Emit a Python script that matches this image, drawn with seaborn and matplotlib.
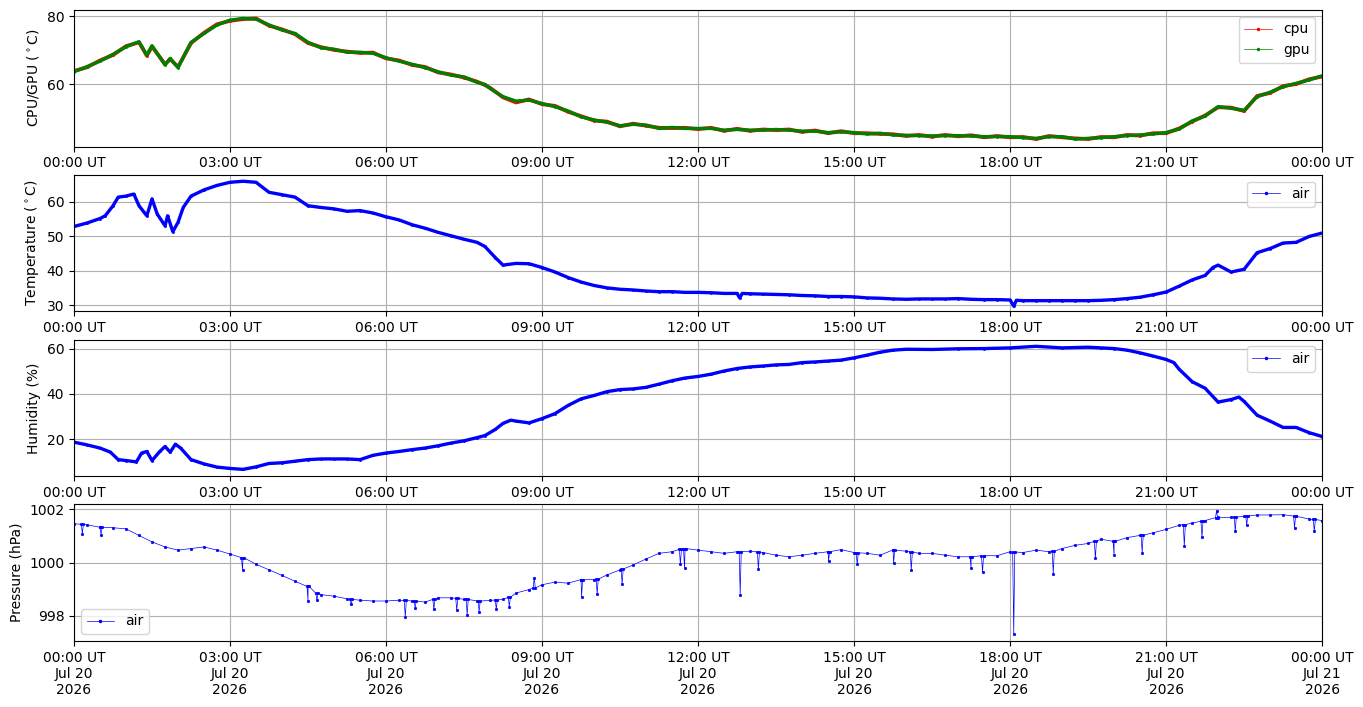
import pandas as pd
import numpy as np
import matplotlib
matplotlib.use("Agg")
import matplotlib.pyplot as plt
import matplotlib.dates as mdates
from matplotlib.lines import Line2D
import seaborn as sns

day = pd.Timestamp("2026-07-20 00:00")

# CPU / GPU temperature (hours after 00:00 UT, degC)
chip_hours = [0, 0.25, 0.5, 0.75, 1.0, 1.25, 1.4, 1.5, 1.75, 1.85, 2.0, 2.25, 2.5, 2.75,
              3.0, 3.25, 3.5, 3.75, 4.0, 4.25, 4.5, 4.75, 5.0, 5.25, 5.5, 5.75, 6.0, 6.25,
              6.5, 6.75, 7.0, 7.25, 7.5, 7.75, 7.9, 8.0, 8.25, 8.5, 8.75, 9.0, 9.25, 9.5,
              9.75, 10.0, 10.25, 10.5, 10.75, 11.0, 11.25, 11.5, 11.75, 12.0, 12.25, 12.5,
              12.75, 13.0, 13.25, 13.5, 13.75, 14.0, 14.25, 14.5, 14.75, 15.0, 15.25, 15.5,
              15.75, 16.0, 16.25, 16.5, 16.75, 17.0, 17.25, 17.5, 17.75, 18.0, 18.25, 18.5,
              18.75, 19.0, 19.25, 19.5, 19.75, 20.0, 20.25, 20.5, 20.75, 21.0, 21.25, 21.5,
              21.75, 22.0, 22.25, 22.5, 22.75, 23.0, 23.25, 23.5, 23.75, 24.0]
gpu = [63.7, 65.2, 66.8, 68.8, 71.0, 72.5, 68.6, 71.3, 65.7, 67.6, 64.9, 72.3, 74.9, 77.4,
       78.8, 79.3, 79.1, 77.4, 75.9, 74.9, 72.3, 70.7, 70.3, 69.4, 69.4, 69.1, 67.8, 66.8,
       65.9, 64.9, 63.7, 62.7, 62.2, 60.6, 60.0, 58.8, 56.4, 55.1, 55.4, 54.4, 53.5, 52.2,
       50.5, 49.6, 48.9, 47.9, 48.3, 48.1, 47.1, 47.4, 47.1, 47.1, 47.1, 46.6,
       46.8, 46.6, 46.6, 46.8, 46.6, 46.3, 46.3, 45.9, 46.1, 45.9, 45.5, 45.7,
       45.2, 45.1, 45.0, 44.9, 45.0, 45.0, 44.9, 44.7, 44.7, 44.7, 44.4, 44.2,
       44.7, 44.7, 44.0, 44.2, 44.4, 44.7, 45.0, 45.2, 45.5, 45.9, 46.9, 49.3,
       50.7, 53.5, 53.0, 52.4, 56.4, 57.7, 59.3, 60.3, 61.3, 62.5]
cpu = [63.9, 65.0, 67.0, 68.6, 71.2, 72.3, 68.4, 71.1, 65.9, 67.4, 65.1, 72.1, 75.1, 77.6,
       78.6, 79.1, 79.3, 77.2, 76.1, 74.7, 72.1, 70.9, 70.1, 69.6, 69.2, 69.3, 67.6, 67.0,
       65.7, 65.1, 63.5, 62.9, 62.0, 60.8, 59.8, 59.0, 56.2, 54.7, 55.6, 54.2, 53.7, 52.0,
       50.7, 49.4, 49.1, 47.7, 48.5, 47.9, 47.3, 47.2, 47.3, 46.9, 47.3, 46.4,
       47.0, 46.4, 46.8, 46.6, 46.8, 46.1, 46.5, 45.7, 46.3, 45.7, 45.7, 45.5,
       45.4, 44.9, 45.2, 44.7, 45.2, 44.8, 45.1, 44.5, 44.9, 44.5, 44.6, 44.0,
       44.9, 44.5, 44.2, 44.0, 44.6, 44.5, 45.2, 45.0, 45.7, 45.7, 47.1, 49.1,
       50.9, 53.3, 53.2, 52.2, 56.6, 57.5, 59.5, 60.1, 61.5, 62.3]

# Air temperature (degC)
temp_hours = [0, 0.25, 0.5, 0.6, 0.75, 0.85, 1.0, 1.15, 1.25, 1.4, 1.5, 1.6, 1.75, 1.8, 1.9,
              2.0, 2.1, 2.25, 2.5, 2.75, 3.0, 3.25, 3.5, 3.75, 4.0, 4.25, 4.5, 4.75, 5.0,
              5.25, 5.5, 5.75, 6.0, 6.25, 6.5, 6.75, 7.0, 7.25, 7.5, 7.75, 7.9, 8.1, 8.25,
              8.5, 8.75, 9.0, 9.25, 9.5, 9.75, 10.0, 10.25, 10.5, 10.75, 11.0, 11.25, 11.5,
              11.75, 12.0, 12.25, 12.5, 12.75, 12.8, 12.85, 13.0, 13.25, 13.5, 13.75, 14.0,
              14.25, 14.5, 14.75, 15.0, 15.25, 15.5, 15.75, 16.0, 16.25, 16.5, 16.75, 17.0,
              17.25, 17.5, 17.75, 18.0, 18.07, 18.12, 18.25, 18.5, 18.75, 19.0, 19.25, 19.5,
              19.75, 20.0, 20.25, 20.5, 20.75, 21.0, 21.25, 21.5, 21.75, 21.9, 22.0, 22.25,
              22.5, 22.75, 23.0, 23.25, 23.5, 23.75, 24.0]
temp = [52.9, 53.9, 55.2, 56.0, 58.9, 61.4, 61.7, 62.3, 58.9, 56.0, 60.9, 56.5, 53.1, 56.0, 51.4,
        54.1, 58.4, 61.7, 63.5, 64.8, 65.7, 66.0, 65.7, 62.8, 62.1, 61.4, 58.9, 58.4, 58.0,
        57.3, 57.5, 56.8, 55.7, 54.8, 53.4, 52.4, 51.2, 50.2, 49.2, 48.3, 47.1, 43.9, 41.7,
        42.2, 42.1, 41.0, 39.7, 38.1, 36.8, 35.8, 35.1, 34.7, 34.5, 34.2, 34.0, 34.0,
        33.8, 33.8, 33.7, 33.5, 33.5, 32.2, 33.5, 33.4, 33.3, 33.2, 33.1, 32.9,
        32.8, 32.6, 32.6, 32.5, 32.2, 32.1, 31.9, 31.8, 31.9, 31.9, 31.9, 32.0,
        31.8, 31.7, 31.7, 31.6, 29.8, 31.5, 31.4, 31.4, 31.4, 31.4, 31.4, 31.4,
        31.5, 31.7, 32.0, 32.4, 33.1, 33.9, 35.6, 37.4, 38.7, 41.0, 41.7, 39.7,
        40.5, 45.3, 46.5, 48.1, 48.3, 50.0, 51.0]

# Relative humidity (%)
hum_hours = [0, 0.25, 0.5, 0.7, 0.85, 1.0, 1.2, 1.3, 1.4, 1.5, 1.65, 1.75, 1.85, 1.95, 2.05,
             2.25, 2.5, 2.75, 3.0, 3.25, 3.5, 3.75, 4.0, 4.25, 4.5, 4.75, 5.0, 5.25, 5.5,
             5.75, 6.0, 6.25, 6.5, 6.75, 7.0, 7.25, 7.5, 7.75, 7.9, 8.1, 8.25, 8.4, 8.5,
             8.75, 9.0, 9.25, 9.5, 9.75, 10.0, 10.25, 10.5, 10.75, 11.0, 11.25, 11.5, 11.75,
             12.0, 12.25, 12.5, 12.75, 13.0, 13.25, 13.5, 13.75, 14.0, 14.25, 14.5, 14.75,
             15.0, 15.25, 15.5, 15.75, 16.0, 16.5, 17.0, 17.5, 18.0, 18.5, 19.0, 19.5,
             19.75, 20.0, 20.25, 20.5, 20.75, 21.0, 21.15, 21.25, 21.5, 21.75, 22.0, 22.25,
             22.4, 22.5, 22.75, 23.0, 23.25, 23.5, 23.75, 24.0]
hum = [18.7, 17.5, 16.1, 14.3, 11.0, 10.6, 10.0, 13.9, 14.6, 10.6, 14.6, 16.8, 14.3, 17.8, 16.1,
       11.0, 9.1, 7.7, 7.1, 6.7, 7.8, 9.3, 9.6, 10.3, 11.0, 11.3, 11.3, 11.3, 11.0,
       12.9, 13.9, 14.6, 15.4, 16.1, 17.1, 18.3, 19.3, 20.7, 21.6, 24.3, 27.0, 28.4, 28.0,
       27.2, 29.1, 31.3, 34.9, 37.8, 39.3, 41.0, 41.9, 42.2, 42.9, 44.3, 45.8, 47.0,
       47.7, 48.7, 50.1, 51.2, 51.9, 52.3, 52.8, 53.0, 53.8, 54.1, 54.5, 54.9,
       55.9, 57.1, 58.4, 59.3, 59.7, 59.6, 59.9, 60.0, 60.3, 61.0, 60.3, 60.6,
       60.3, 60.0, 59.3, 58.1, 56.7, 55.2, 53.8, 50.9, 45.4, 42.5, 36.4, 37.5,
       38.6, 36.7, 30.6, 28.0, 25.2, 25.2, 22.9, 21.2]

# Air pressure (hPa), regular readings every 15 minutes
pres_hours = list(np.arange(0, 24.01, 0.25))
pres = [1001.46, 1001.42, 1001.33, 1001.31, 1001.27, 1001.02, 1000.78, 1000.59, 1000.47,
        1000.53, 1000.59, 1000.47, 1000.32, 1000.19, 999.94, 999.73, 999.52, 999.30, 999.11,
        998.80, 998.74, 998.64, 998.59, 998.56, 998.56, 998.59, 998.56, 998.52, 998.68,
        998.68, 998.62, 998.56, 998.58, 998.62, 998.86, 998.99, 999.17, 999.27, 999.23,
        999.36, 999.36, 999.54, 999.73, 999.91, 1000.14, 1000.35, 1000.41, 1000.53, 1000.47,
        1000.41, 1000.35, 1000.41, 1000.43, 1000.38, 1000.28, 1000.22, 1000.28, 1000.35,
        1000.41, 1000.49, 1000.38, 1000.35, 1000.28, 1000.47, 1000.43, 1000.35, 1000.35,
        1000.28, 1000.22, 1000.22, 1000.26, 1000.26, 1000.41, 1000.38, 1000.47, 1000.41,
        1000.53, 1000.65, 1000.72, 1000.88, 1000.80, 1000.94, 1001.02, 1001.12, 1001.25,
        1001.40, 1001.48, 1001.58, 1001.70, 1001.70, 1001.74, 1001.79, 1001.79, 1001.80,
        1001.74, 1001.64, 1001.58]
# single-sample dips: time, dip value, and the band level on either side of it
dip_hours = [0.16, 0.52, 3.24, 4.5, 4.67, 5.33, 6.37, 6.56, 6.92, 7.36, 7.56, 7.79, 8.12,
             8.37, 8.85, 9.76, 10.06, 10.54, 11.66, 11.74, 12.81, 13.16, 14.51, 15.06, 15.76,
             16.10, 17.25, 17.47, 18.07, 18.83, 19.64, 20.0, 20.54, 21.35, 21.69, 21.97,
             22.33, 22.55, 23.47, 23.85]
dip_vals = [1001.09, 1001.05, 999.73, 998.56, 998.58, 998.43, 997.96, 998.31, 998.25, 998.21,
            998.04, 998.16, 998.25, 998.35, 999.44, 998.72, 998.83, 999.20, 999.94, 999.79,
            998.80, 999.75, 1000.07, 999.94, 999.98, 999.73, 999.79, 999.64, 997.32, 999.58,
            1000.16, 1000.28, 1000.38, 1000.63, 1000.95, 1001.95, 1001.17, 1001.42, 1001.31,
            1001.17]
dip_base = [1001.44, 1001.33, 1000.19, 999.11, 998.85, 998.62, 998.58, 998.56, 998.62, 998.66,
            998.62, 998.56, 998.60, 998.70, 999.05, 999.36, 999.38, 999.76, 1000.50, 1000.53,
            1000.41, 1000.40, 1000.41, 1000.37, 1000.47, 1000.40, 1000.22, 1000.26, 1000.40,
            1000.43, 1000.80, 1000.80, 1001.03, 1001.43, 1001.56, 1001.69, 1001.71, 1001.75,
            1001.75, 1001.62]


def to_time(hours):
    return day + pd.to_timedelta(hours, unit="h")


chips = pd.DataFrame({"time": to_time(chip_hours), "cpu": cpu, "gpu": gpu})
air_t = pd.DataFrame({"time": to_time(temp_hours), "temp": temp})
air_h = pd.DataFrame({"time": to_time(hum_hours), "hum": hum})
dip_h = np.array(dip_hours)
air_p = pd.concat([
    pd.DataFrame({"time": to_time(pres_hours), "pres": pres}),
    pd.DataFrame({"time": to_time(dip_h), "pres": dip_vals}),
    pd.DataFrame({"time": to_time(dip_h - 0.02), "pres": dip_base}),
    pd.DataFrame({"time": to_time(dip_h + 0.02), "pres": dip_base}),
]).sort_values("time").reset_index(drop=True)

fig, axes = plt.subplots(4, 1, figsize=(13.63, 7.07), dpi=100)
fig.subplots_adjust(left=0.0543, right=0.970, top=0.986, bottom=0.0934, hspace=0.206)


def draw(ax, df, col, color, lw, ms):
    sns.lineplot(data=df, x="time", y=col, ax=ax, color=color, linewidth=lw,
                 marker=".", markersize=ms, markeredgecolor=color, markerfacecolor=color,
                 markeredgewidth=0.5, estimator=None, sort=True, legend=False)


def handle(color, label):
    return Line2D([], [], color=color, linewidth=0.5, marker=".", markersize=3,
                  markeredgecolor=color, label=label)


draw(axes[0], chips, "cpu", "red", 2.7, 3)
draw(axes[0], chips, "gpu", "green", 2.4, 3)
draw(axes[1], air_t, "temp", "blue", 2.4, 3)
draw(axes[2], air_h, "hum", "blue", 2.4, 3)
draw(axes[3], air_p, "pres", "blue", 0.5, 3.5)

axes[0].legend(handles=[handle("red", "cpu"), handle("green", "gpu")], loc="upper right")
axes[1].legend(handles=[handle("blue", "air")], loc="upper right")
axes[2].legend(handles=[handle("blue", "air")], loc="upper right")
axes[3].legend(handles=[handle("blue", "air")], loc="lower left")

ylabels = [r"CPU/GPU ($^\circ$C)", r"Temperature ($^\circ$C)", "Humidity (%)", "Pressure (hPa)"]
ylims = [(41.8, 81.8), (28.3, 67.9), (3.7, 64.0), (997.06, 1002.19)]
yticks = [[60, 80], [30, 40, 50, 60], [20, 40, 60], [998, 1000, 1002]]

for i, ax in enumerate(axes):
    ax.set_xlim(day, day + pd.Timedelta(hours=24))
    ax.set_ylim(*ylims[i])
    ax.set_yticks(yticks[i])
    ax.set_ylabel(ylabels[i])
    ax.set_xlabel("")
    ax.xaxis.set_major_locator(mdates.HourLocator(byhour=range(0, 24, 3)))
    if i < 3:
        ax.xaxis.set_major_formatter(mdates.DateFormatter("%H:%M UT"))
    else:
        ax.xaxis.set_major_formatter(mdates.DateFormatter("%H:%M UT\n%b %d\n%Y"))
    ax.grid(True)

fig.savefig("out.png", dpi=100)
